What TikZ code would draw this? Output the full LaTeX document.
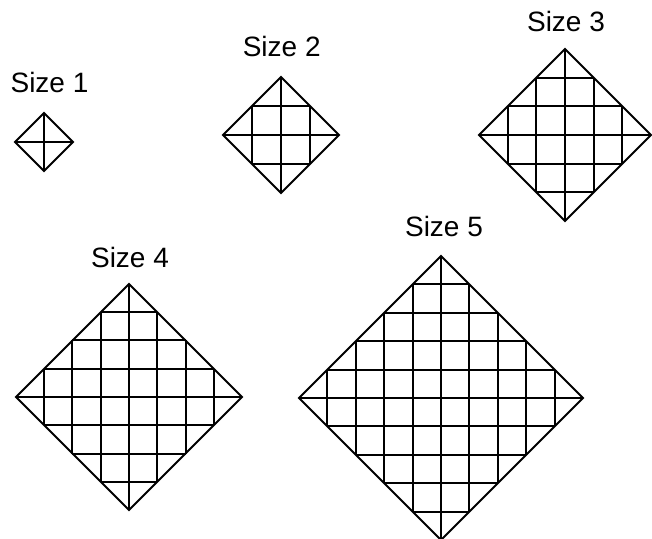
\documentclass[tikz,border=0pt]{standalone}
\usepackage{fontspec}
\setmainfont{Liberation Sans}
\newcommand\dgrid[4]{% center x, center y, size n, cell h
  \pgfmathtruncatemacro\dglo{1-#3}
  \pgfmathtruncatemacro\dghi{#3-1}
  \pgfmathtruncatemacro\dgR{round(#3*#4)}
  \draw[gridline] ({#1-\dgR},{#2}) -- ({#1},{#2-\dgR}) -- ({#1+\dgR},{#2}) -- ({#1},{#2+\dgR}) -- cycle;
  \foreach \k in {\dglo,...,\dghi}{
    \pgfmathtruncatemacro\dgL{round((#3-abs(\k))*#4)}
    \pgfmathtruncatemacro\dgO{round(\k*#4)}
    \draw[gridline] ({#1+\dgO},{#2-\dgL}) -- ({#1+\dgO},{#2+\dgL});
    \draw[gridline] ({#1-\dgL},{#2+\dgO}) -- ({#1+\dgL},{#2+\dgO});
  }
}
\begin{document}
\begin{tikzpicture}[x=1bp,y=-1bp,
  gridline/.style={line width=1.8bp,line join=miter,black},
  sizelabel/.style={anchor=base,font=\fontsize{28bp}{32bp}\selectfont,inner sep=0pt}]
\useasboundingbox (0,0) rectangle (652,539);
\node[sizelabel] (l1) at (49.5,92.3) {Size 1};
\node[sizelabel] (l2) at (281.7,56.7) {Size 2};
\node[sizelabel] (l3) at (566,32) {Size 3};
\node[sizelabel] (l4) at (130,267) {Size 4};
\node[sizelabel] (l5) at (444,237) {Size 5};
\dgrid{44}{142}{1}{29}
\dgrid{281}{135}{2}{29}
\dgrid{565}{135}{3}{28.5}
\dgrid{129}{397}{4}{28.25}
\dgrid{441}{398}{5}{28.4}
\end{tikzpicture}
\end{document}
